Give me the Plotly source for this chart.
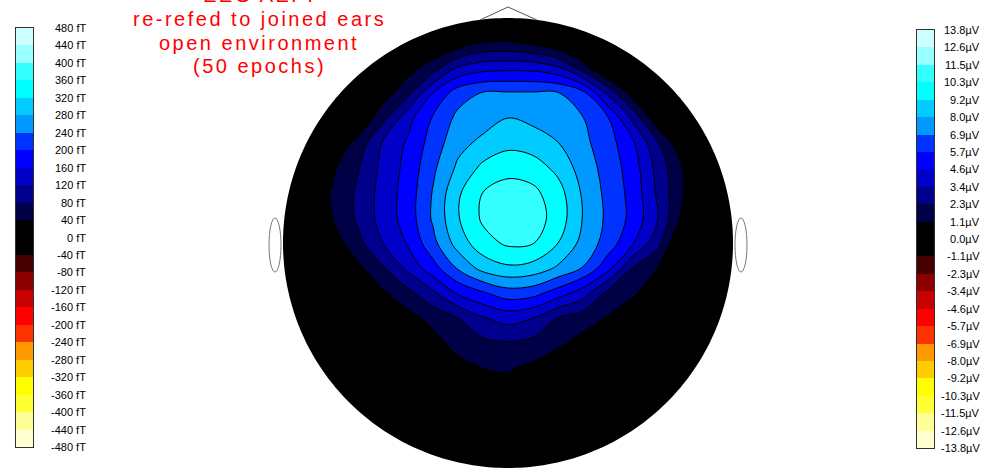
import numpy as np
import plotly.graph_objects as go

# ---------------------------------------------------------------- scales
levels_ft = [-480, -440, -400, -360, -320, -280, -240, -200, -160, -120, -80, -40,
             0, 40, 80, 120, 160, 200, 240, 280, 320, 360, 400, 440, 480]
labels_ft = ["-480 fT", "-440 fT", "-400 fT", "-360 fT", "-320 fT", "-280 fT",
             "-240 fT", "-200 fT", "-160 fT", "-120 fT", "-80 fT", "-40 fT",
             "0 fT", "40 fT", "80 fT", "120 fT", "160 fT", "200 fT", "240 fT",
             "280 fT", "320 fT", "360 fT", "400 fT", "440 fT", "480 fT"]
labels_uv = ["-13.8µV", "-12.6µV", "-11.5µV", "-10.3µV", "-9.2µV", "-8.0µV",
             "-6.9µV", "-5.7µV", "-4.6µV", "-3.4µV", "-2.3µV", "-1.1µV",
             "0.0µV", "1.1µV", "2.3µV", "3.4µV", "4.6µV", "5.7µV", "6.9µV",
             "8.0µV", "9.2µV", "10.3µV", "11.5µV", "12.6µV", "13.8µV"]
# one colour per band, from the most negative band to the most positive
band_colors = ["rgb(255,255,208)", "rgb(255,255,153)", "rgb(255,255,51)", "rgb(255,255,0)",
               "rgb(255,204,0)", "rgb(255,153,0)", "rgb(255,51,0)", "rgb(255,0,0)",
               "rgb(200,0,0)", "rgb(140,0,0)", "rgb(70,0,0)", "rgb(0,0,0)",
               "rgb(0,0,0)", "rgb(0,0,70)", "rgb(0,0,140)", "rgb(0,0,200)",
               "rgb(0,0,255)", "rgb(0,51,255)", "rgb(0,153,255)", "rgb(0,204,255)",
               "rgb(0,255,255)", "rgb(51,255,255)", "rgb(153,255,255)", "rgb(204,255,255)"]

title_lines = ["EEG AEP:", "re-refed to joined ears", "open environment", "(50 epochs)"]

# ------------------------------------------ field (fT), 19 x 19 over the head
# rows run from the nose (front) to the back of the head, columns left -> right
field_ft = [
    [-30, -30, -30, -30, -30, -30, -30, -30, -30, -30, -30, -30, -30, -30, -30, -30, -30, -30, -30],
    [-30, -30, -30, -30, -30, -30, 0, 15, 42, 45, 31, 5, -20, -30, -30, -30, -30, -30, -30],
    [-30, -30, -30, -30, -15, 22, 59, 125, 145, 150, 148, 128, 58, -17, -30, -30, -30, -30, -30],
    [-30, -30, -30, -20, 18, 68, 160, 222, 243, 244, 244, 242, 212, 110, 15, -30, -30, -30, -30],
    [-30, -30, -30, 0, 67, 146, 204, 250, 262, 280, 270, 255, 241, 203, 109, 5, -30, -30, -30],
    [-30, -30, 6, 53, 125, 166, 218, 267, 290, 308, 300, 281, 250, 217, 167, 83, 0, -30, -30],
    [-30, -20, 33, 77, 132, 173, 232, 288, 330, 348, 340, 309, 262, 224, 180, 105, 38, -25, -30],
    [-30, 5, 45, 87, 136, 178, 243, 314, 361, 376, 370, 337, 274, 228, 186, 112, 40, -30, -30],
    [-30, -5, 40, 87, 136, 178, 246, 317, 367, 393, 380, 343, 278, 231, 188, 120, 25, -30, -30],
    [-30, -25, 18, 68, 120, 164, 228, 298, 345, 367, 362, 320, 267, 223, 163, 92, -20, -30, -30],
    [-30, -30, -25, 29, 76, 130, 184, 245, 295, 313, 305, 274, 238, 173, 78, 38, -25, -30, -30],
    [-30, -30, -30, -25, 33, 68, 112, 166, 195, 222, 215, 180, 139, 66, 44, 20, -10, -30, -30],
    [-30, -30, -30, -30, -25, 26, 53, 80, 117, 136, 120, 79, 58, 37, 17, -5, -30, -30, -30],
    [-30, -30, -30, -30, -30, -10, 25, 55, 70, 76, 68, 48, 25, 0, -20, -30, -30, -30, -30],
    [-30, -30, -30, -30, -30, -30, 0, 25, 40, 44, 30, 10, -10, -30, -30, -30, -30, -30, -30],
    [-30, -30, -30, -30, -30, -30, -30, -10, 15, 20, 10, -10, -30, -30, -30, -30, -30, -30, -30],
    [-30, -30, -30, -30, -30, -30, -30, -30, -30, -30, -30, -30, -30, -30, -30, -30, -30, -30, -30],
    [-30, -30, -30, -30, -30, -30, -30, -30, -30, -30, -30, -30, -30, -30, -30, -30, -30, -30, -30],
    [-30, -30, -30, -30, -30, -30, -30, -30, -30, -30, -30, -30, -30, -30, -30, -30, -30, -30, -30],
]

# ---------------------------------------------------------------- geometry
W, H = 997, 470
CX, CY, R = 508.0, 243.0, 225.0          # head centre / radius in pixels


def ux(px):
    return (px - CX) / R


def vy(py):
    return (CY - py) / R


def pfx(px):
    return px / W


def pfy(py):
    return 1 - py / H


n = len(field_ft)
grid_u = np.linspace(-1, 1, n)
grid_v = np.linspace(-1, 1, n)
z = np.array(field_ft[::-1], dtype=float)   # bottom row first for ascending y

# stepped colour scale: one flat segment per band, band centres map to their colour
step = levels_ft[1] - levels_ft[0]
lo, hi = levels_ft[0] - step / 2, levels_ft[-1] + step / 2
colorscale = []
for k, c in enumerate(band_colors):
    a = 0.0 if k == 0 else (levels_ft[k] - lo) / (hi - lo)
    b = 1.0 if k == len(band_colors) - 1 else (levels_ft[k + 1] - lo) / (hi - lo)
    colorscale += [[a, c], [b, c]]

fig = go.Figure()

fig.add_trace(go.Contour(
    x=grid_u, y=grid_v, z=z,
    colorscale=colorscale, zmin=lo, zmax=hi, zauto=False,
    autocontour=False,
    contours=dict(start=levels_ft[0], end=levels_ft[-1], size=step,
                  coloring="fill", showlines=True),
    line=dict(color="black", width=1, smoothing=1.0),
    showscale=False, hoverinfo="skip",
    xaxis="x", yaxis="y",
))

# colour bars drawn as one-column heatmaps
band_mid = [[(levels_ft[k] + levels_ft[k + 1]) / 2] for k in range(len(band_colors))]
edges = list(range(len(levels_ft)))
for xa, ya in (("x2", "y2"), ("x3", "y3")):
    fig.add_trace(go.Heatmap(
        x=[0, 1], y=edges, z=band_mid,
        colorscale=colorscale, zmin=lo, zmax=hi, showscale=False,
        hoverinfo="skip", xaxis=xa, yaxis=ya,
    ))

hidden = dict(visible=False, fixedrange=True)
bar_axis = dict(showline=True, mirror=True, linecolor="#303030", linewidth=1,
                showgrid=False, zeroline=False, showticklabels=False, ticks="",
                fixedrange=True)

fig.update_layout(
    width=W, height=H,
    margin=dict(l=0, r=0, t=0, b=0),
    paper_bgcolor="white", plot_bgcolor="rgba(0,0,0,0)",
    showlegend=False,
    xaxis=dict(domain=[0, 1], range=[ux(0), ux(W)], anchor="y", **hidden),
    yaxis=dict(domain=[0, 1], range=[vy(H), vy(0)], anchor="x", **hidden),
    xaxis2=dict(domain=[pfx(16), pfx(33)], range=[0, 1], anchor="y2", **bar_axis),
    yaxis2=dict(domain=[pfy(447), pfy(28)], range=[0, len(levels_ft) - 1], anchor="x2", **bar_axis),
    xaxis3=dict(domain=[pfx(917), pfx(934)], range=[0, 1], anchor="y3", **bar_axis),
    yaxis3=dict(domain=[pfy(448), pfy(30)], range=[0, len(levels_ft) - 1], anchor="x3", **bar_axis),
)

# ---------------------------------------------------------------- head outline
theta = np.linspace(0, 2 * np.pi, 361)
circle = " ".join(f"L {np.cos(t):.5f} {np.sin(t):.5f}" for t in theta[1:])
mask_path = (f"M -1.05 -1.05 L 1.05 -1.05 L 1.05 1.05 L -1.05 1.05 Z "
             f"M 1 0 {circle} Z")
shapes = [
    dict(type="path", path=mask_path, xref="x", yref="y", fillcolor="white",
         line=dict(width=0), layer="above", fillrule="evenodd"),
    # nose
    dict(type="path", xref="x", yref="y", layer="above",
         path=f"M {ux(480)} {vy(20)} L {ux(508)} {vy(7)} L {ux(537)} {vy(20)}",
         line=dict(color="#555555", width=1)),
    # ears
    dict(type="circle", xref="x", yref="y", layer="above",
         x0=ux(269), x1=ux(281), y0=vy(218), y1=vy(272),
         line=dict(color="#777777", width=1)),
    dict(type="circle", xref="x", yref="y", layer="above",
         x0=ux(735), x1=ux(747), y0=vy(218), y1=vy(272),
         line=dict(color="#777777", width=1)),
]
fig.update_layout(shapes=shapes)

# ---------------------------------------------------------------- text
ann = []
label_font = dict(family="Liberation Sans, Arial, sans-serif", size=11, color="black")
for i, (tf, tu) in enumerate(zip(labels_ft, labels_uv)):
    ann.append(dict(text=tf, xref="paper", x=pfx(88), xanchor="right",
                    yref="y2", y=i, yanchor="middle", showarrow=False, font=label_font))
    ann.append(dict(text=tu, xref="paper", x=pfx(982), xanchor="right",
                    yref="y3", y=i, yanchor="middle", showarrow=False, font=label_font))

title_font = dict(family="Liberation Sans, Arial, sans-serif", size=20, color="#ff0000")
for i, line in enumerate(title_lines):
    ann.append(dict(text=f'<span style="letter-spacing:2.5px">{line}</span>',
                    xref="paper", x=pfx(259), xanchor="center",
                    yref="paper", y=pfy(-4.5 + 23.5 * i), yanchor="middle",
                    showarrow=False, font=title_font))
fig.update_layout(annotations=ann)

fig.write_html("out.html")
